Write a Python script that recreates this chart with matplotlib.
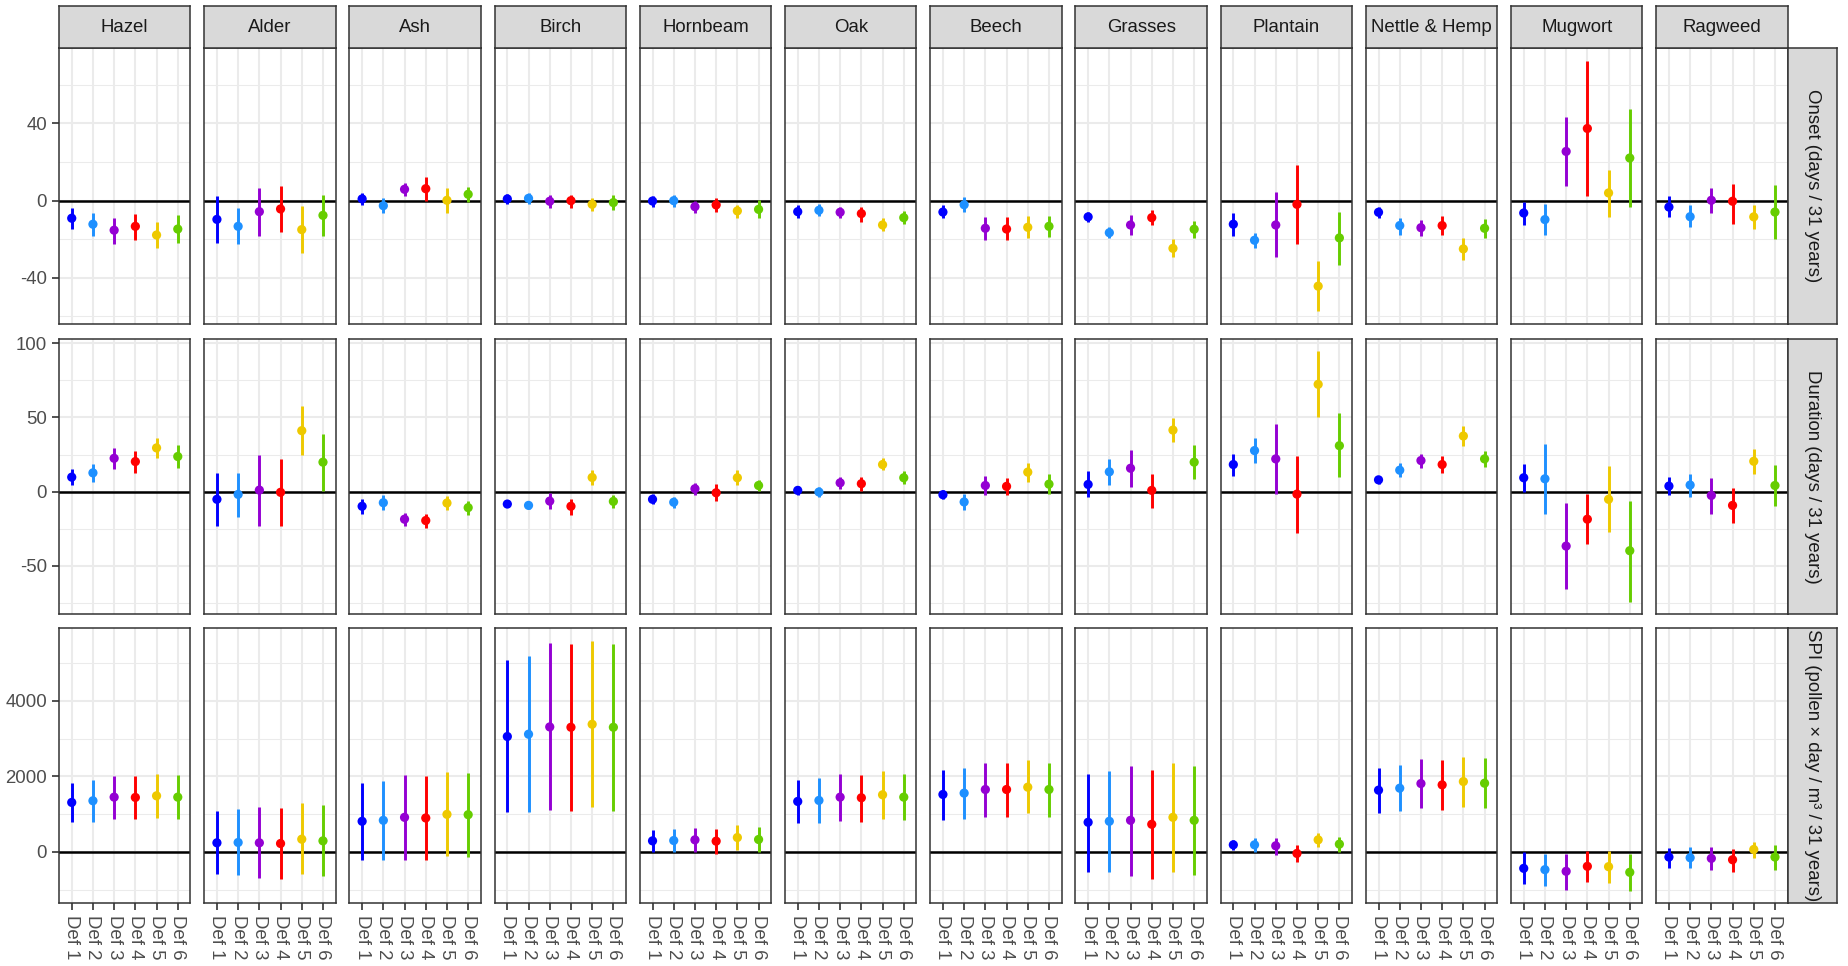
import matplotlib
matplotlib.use("Agg")
import matplotlib.pyplot as plt
import numpy as np

plt.rcParams['font.family'] = ['Liberation Sans', 'DejaVu Sans']

taxa = ["Hazel", "Alder", "Ash", "Birch", "Hornbeam", "Oak", "Beech", "Grasses",
        "Plantain", "Nettle & Hemp", "Mugwort", "Ragweed"]
definitions = ["Def 1", "Def 2", "Def 3", "Def 4", "Def 5", "Def 6"]
def_colors = ["#0000FF", "#1E90FF", "#9400D3", "#FF0000", "#EEC900", "#66CD00"]
row_labels = ["Onset (days / 31 years)", "Duration (days / 31 years)",
              "SPI (pollen \u00d7 day / m\u00b3 / 31 years)"]

onset_est = [[-9.1, -12.2, -15.3, -13.3, -17.8, -14.7], [-9.7, -13.3, -5.7, -4.3, -15.0, -7.6],
             [0.9, -2.6, 5.9, 6.2, 0.2, 3.3], [0.9, 1.2, -0.3, 0.0, -1.9, -1.0],
             [-0.2, 0.0, -3.1, -2.2, -5.3, -4.5], [-5.7, -5.0, -6.0, -6.7, -12.6, -8.8],
             [-5.9, -2.1, -14.3, -14.7, -13.8, -13.3], [-8.4, -16.6, -12.6, -8.8, -24.7, -14.8],
             [-12.2, -20.5, -12.6, -1.9, -44.3, -19.3], [-6.0, -12.9, -14.0, -12.9, -25.0, -14.3],
             [-6.4, -9.8, 25.5, 37.4, 4.0, 22.1], [-3.3, -8.3, 0.2, -0.3, -8.4, -5.9]]
onset_lo = [[-14.7, -18.1, -22.2, -20.2, -24.5, -21.7], [-21.9, -22.6, -18.1, -16.0, -27.1, -18.1],
            [-2.2, -6.4, 2.2, 0.0, -6.4, -0.5], [-1.7, -1.9, -4.0, -3.6, -5.5, -5.0],
            [-3.1, -3.4, -6.6, -5.9, -8.8, -8.8], [-9.0, -8.1, -9.0, -10.9, -15.5, -12.2],
            [-8.8, -6.0, -20.2, -20.5, -19.5, -18.6], [-10.9, -19.5, -17.9, -12.6, -29.3, -19.3],
            [-18.1, -24.7, -29.3, -22.4, -57.4, -33.1], [-9.0, -17.6, -18.1, -17.8, -30.5, -19.5],
            [-12.7, -17.9, 7.4, 2.2, -8.4, -3.1], [-8.6, -13.8, -6.4, -12.1, -14.7, -19.7]]
onset_hi = [[-4.0, -6.4, -8.8, -6.7, -10.9, -7.6], [2.2, -4.0, 6.6, 7.4, -2.6, 2.9],
            [3.8, 1.4, 9.0, 12.3, 6.4, 7.1], [3.5, 4.1, 2.9, 3.1, 1.4, 2.9],
            [2.6, 3.1, 0.0, 1.4, -2.1, 0.2], [-2.4, -1.9, -3.3, -3.1, -8.8, -5.5],
            [-2.4, 1.9, -8.6, -8.4, -8.1, -8.1], [-6.0, -13.8, -7.6, -5.0, -19.7, -10.5],
            [-6.6, -16.7, 4.3, 18.6, -31.4, -5.7], [-3.3, -9.0, -9.8, -8.1, -19.5, -9.5],
            [-0.7, -1.5, 43.6, 72.6, 16.0, 47.6], [2.4, -2.2, 6.6, 8.6, -2.4, 7.9]]

duration_est = [[9.8, 12.7, 22.5, 20.3, 29.5, 23.7], [-5.1, -1.8, 1.1, -0.4, 41.1, 19.9],
                [-9.8, -7.4, -18.5, -19.4, -7.6, -10.7], [-8.3, -9.2, -6.3, -9.8, 9.6, -6.5],
                [-5.1, -7.1, 2.0, -0.7, 9.4, 4.2], [0.9, -0.2, 6.0, 5.4, 18.3, 9.4],
                [-2.0, -6.9, 4.2, 3.6, 13.2, 5.1], [4.9, 13.4, 15.8, 0.9, 41.5, 19.9],
                [18.3, 27.7, 22.1, -1.6, 72.3, 31.0], [8.0, 14.5, 21.0, 18.3, 37.5, 22.1],
                [9.4, 8.7, -36.6, -18.5, -5.1, -39.7], [3.8, 4.5, -2.5, -9.2, 20.5, 4.2]]
duration_lo = [[4.5, 6.7, 15.0, 12.9, 22.5, 15.8], [-22.8, -16.7, -23.0, -22.8, 24.6, 0.4],
               [-14.7, -12.1, -23.0, -24.1, -12.5, -15.4], [-10.5, -11.4, -11.6, -15.4, 4.5, -10.9],
               [-8.5, -10.9, -2.0, -6.5, 4.2, 0.2], [-2.2, -3.6, 2.0, 0.7, 14.3, 4.9],
               [-5.1, -12.1, -2.0, -2.0, 6.5, -1.8], [-3.6, 4.5, 3.3, -10.7, 33.3, 8.3],
               [10.9, 19.2, -1.3, -27.5, 50.4, 9.8], [4.9, 9.6, 16.1, 12.5, 30.6, 16.5],
               [-0.2, -14.7, -65.6, -35.5, -27.0, -73.9], [-2.0, -3.3, -14.7, -20.8, 12.1, -9.8]]
duration_hi = [[15.2, 18.8, 29.7, 27.5, 36.4, 31.3], [12.3, 12.9, 25.0, 21.7, 57.4, 39.1],
               [-4.7, -2.5, -14.1, -14.7, -2.9, -6.0], [-6.0, -6.9, -0.7, -4.7, 14.7, -2.0],
               [-1.8, -3.3, 6.0, 5.4, 14.5, 8.0], [4.0, 3.1, 9.8, 9.6, 22.5, 13.8],
               [0.9, -1.3, 10.7, 9.2, 19.4, 12.1], [13.8, 22.1, 28.3, 12.1, 49.6, 31.5],
               [25.4, 36.2, 45.3, 24.1, 94.4, 52.9], [10.9, 19.4, 25.7, 24.1, 44.4, 27.7],
               [18.8, 31.9, -7.6, -1.6, 17.0, -6.0], [9.6, 12.1, 9.2, 2.2, 29.0, 18.3]]

spi_est = [[1307, 1351, 1447, 1439, 1482, 1447], [237, 246, 237, 219, 333, 289],
           [807, 833, 912, 895, 991, 982], [3053, 3114, 3307, 3298, 3377, 3298],
           [289, 298, 316, 281, 377, 325], [1333, 1360, 1447, 1430, 1509, 1447],
           [1518, 1553, 1649, 1649, 1711, 1649], [781, 807, 833, 728, 912, 833],
           [184, 184, 158, -44, 316, 202], [1632, 1684, 1807, 1772, 1860, 1816],
           [-439, -474, -518, -386, -395, -544], [-140, -158, -175, -211, 61, -140]]
spi_lo = [[789, 798, 877, 860, 904, 860], [-596, -623, -702, -719, -596, -649],
          [-211, -211, -211, -211, -114, -140], [1044, 1044, 1097, 1088, 1184, 1079],
          [0, -18, -18, -61, 35, -18], [772, 772, 825, 798, 877, 833],
          [842, 860, 930, 921, 1018, 930], [-526, -544, -632, -719, -526, -614],
          [53, 0, -79, -281, 114, -18], [1035, 1070, 1149, 1105, 1193, 1149],
          [-851, -895, -1000, -789, -833, -1026], [-421, -439, -482, -526, -158, -482]]
spi_hi = [[1825, 1895, 2018, 2000, 2053, 2035], [1070, 1123, 1175, 1167, 1281, 1228],
          [1816, 1886, 2044, 2018, 2105, 2097], [5079, 5184, 5518, 5509, 5596, 5500],
          [579, 596, 640, 614, 702, 667], [1895, 1947, 2070, 2044, 2149, 2070],
          [2158, 2219, 2360, 2360, 2421, 2360], [2070, 2149, 2281, 2158, 2360, 2281],
          [316, 368, 377, 184, 509, 404], [2219, 2307, 2465, 2439, 2518, 2474],
          [-18, -53, -53, 9, 9, -70], [105, 114, 132, 70, 246, 184]]

y_major = [[-40, 0, 40], [-50, 0, 50, 100], [0, 2000, 4000]]
y_minor = [[-60, -20, 20, 60], [-75, -25, 25, 75], [-1000, 1000, 3000, 5000]]

metrics = [(onset_est, onset_lo, onset_hi), (duration_est, duration_lo, duration_hi),
           (spi_est, spi_lo, spi_hi)]

W, H = 1849, 966
fig = plt.figure(figsize=(W / 100, H / 100), dpi=100)
fig.patch.set_facecolor("white")

col_left = [59 + i * 145.2 for i in range(12)]
pw = 131.5
rows_px = [(48, 324), (339, 614), (628, 903)]
strip_top = 6
rstrip_l, rstrip_w = 1788, 49

def fr(x0, y0, w, h):
    return [x0 / W, 1 - (y0 + h) / H, w / W, h / H]

border = "#333333"
fs = 13.4
x = np.arange(1, 7)

for r, (est, lo, hi) in enumerate(metrics):
    top, bot = rows_px[r]
    allv = np.array(lo + hi).ravel()
    vmin, vmax = min(allv.min(), 0), max(allv.max(), 0)
    rng = vmax - vmin
    ylim = (vmin - 0.05 * rng, vmax + 0.05 * rng)
    for c in range(12):
        ax = fig.add_axes(fr(col_left[c], top, pw, bot - top))
        ax.set_xlim(0.4, 6.6)
        ax.set_ylim(*ylim)
        ax.set_xticks(x)
        ax.set_yticks(y_major[r])
        ax.set_yticks(y_minor[r], minor=True)
        ax.grid(which="major", color="#EBEBEB", lw=1.5, zorder=0)
        ax.grid(which="minor", axis="y", color="#EBEBEB", lw=0.75, zorder=0)
        ax.set_axisbelow(True)
        ax.axhline(0, color="black", lw=1.8, zorder=1)
        ax.vlines(x, lo[c], hi[c], colors=def_colors, lw=2.1, zorder=2)
        ax.scatter(x, est[c], c=def_colors, s=44, zorder=3, linewidths=0)
        for sp in ax.spines.values():
            sp.set_color(border)
            sp.set_linewidth(1.1)
        ax.tick_params(which="minor", length=0)
        ax.tick_params(which="major", color=border, length=5, width=1.2,
                       labelsize=fs, labelcolor="#4D4D4D", pad=3.5)
        if c == 0:
            ax.set_yticklabels([str(v) for v in y_major[r]])
        else:
            ax.tick_params(axis="y", length=0, labelleft=False)
        if r == 2:
            ax.set_xticklabels(definitions, rotation=-90, va="top", ha="center")
        else:
            ax.tick_params(axis="x", length=0, labelbottom=False)
        if r == 0:
            sax = fig.add_axes(fr(col_left[c], strip_top, pw, top - strip_top))
            sax.set_facecolor("#D9D9D9")
            sax.set_xticks([]); sax.set_yticks([])
            for sp in sax.spines.values():
                sp.set_color(border); sp.set_linewidth(1.1)
            sax.text(0.5, 0.5, taxa[c], ha="center", va="center", fontsize=fs,
                     color="#1A1A1A", transform=sax.transAxes)
    rax = fig.add_axes(fr(rstrip_l, top, rstrip_w, bot - top))
    rax.set_facecolor("#D9D9D9")
    rax.set_xticks([]); rax.set_yticks([])
    for sp in rax.spines.values():
        sp.set_color(border); sp.set_linewidth(1.1)
    rax.text(0.5, 0.5, row_labels[r], ha="center", va="center", rotation=-90,
             fontsize=fs, color="#1A1A1A", transform=rax.transAxes)

fig.savefig("out.png", dpi=100, facecolor="white")
